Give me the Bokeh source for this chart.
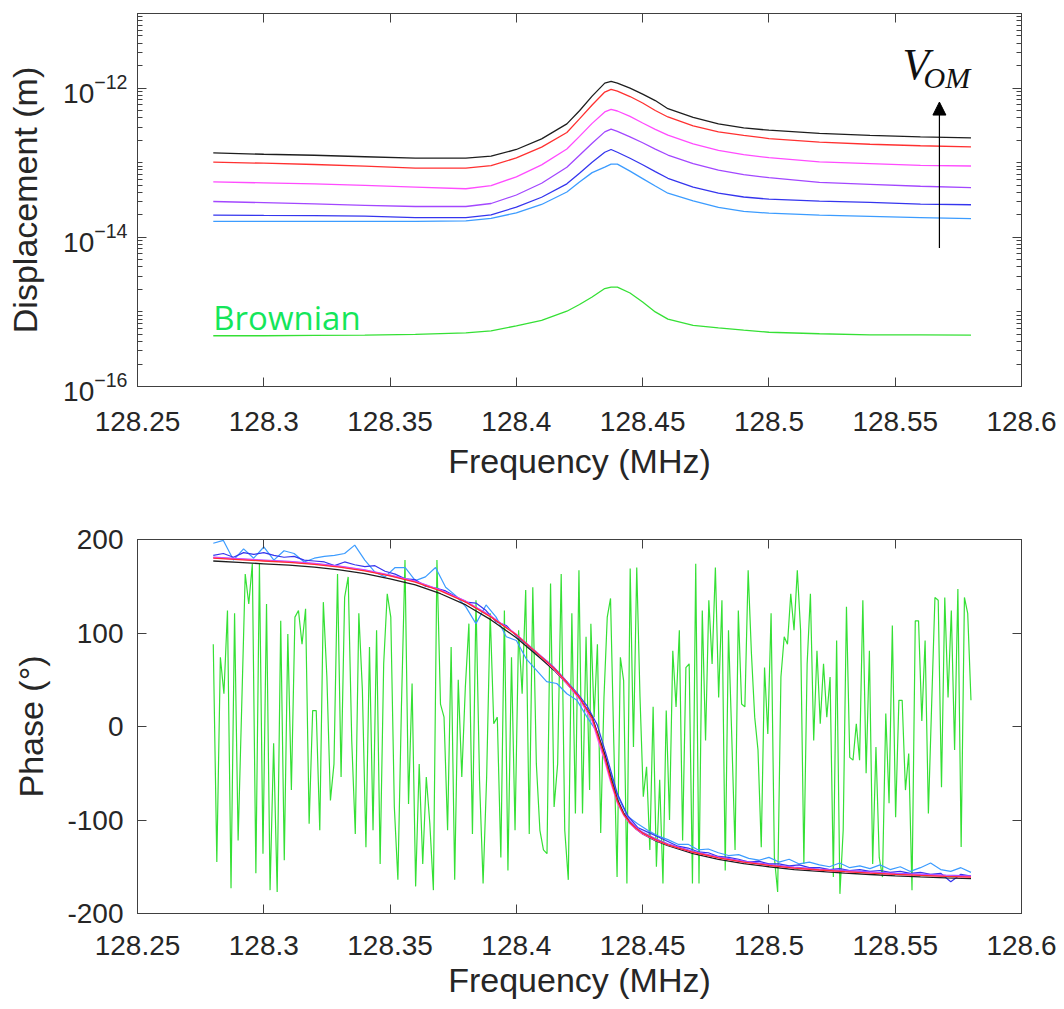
import numpy as np
from bokeh.plotting import figure
from bokeh.layouts import column
from bokeh.models import (Range1d, FixedTicker, LinearAxis, LogAxis, CustomJSTickFormatter,
                          Arrow, NormalHead)
from bokeh.core.properties import value
from bokeh.embed import file_html
from bokeh.resources import INLINE

# ---------------- data : displacement spectra (log10 of metres) ----------------
top_freq = [128.28, 128.30, 128.32, 128.34, 128.36, 128.38, 128.39, 128.40, 128.41, 128.42,
            128.425, 128.43, 128.435, 128.4375, 128.44, 128.445, 128.45, 128.455, 128.46,
            128.47, 128.48, 128.49, 128.50, 128.52, 128.54, 128.56, 128.58]

disp_black = [-12.867, -12.887, -12.900, -12.920, -12.940, -12.940, -12.913, -12.823, -12.680, -12.480,
              -12.303, -12.107, -11.933, -11.911, -11.933, -12.000, -12.080, -12.167, -12.276,
              -12.393, -12.480, -12.533, -12.564, -12.607, -12.633, -12.653, -12.667]
disp_red = [-12.991, -13.007, -13.024, -13.047, -13.073, -13.073, -13.040, -12.936, -12.791, -12.595,
            -12.413, -12.227, -12.053, -12.017, -12.040, -12.113, -12.200, -12.300, -12.387,
            -12.505, -12.587, -12.633, -12.676, -12.723, -12.753, -12.773, -12.787]
disp_magenta = [-13.257, -13.271, -13.284, -13.304, -13.327, -13.349, -13.307, -13.189, -13.029, -12.817,
                -12.647, -12.473, -12.320, -12.284, -12.307, -12.380, -12.468, -12.553, -12.631,
                -12.749, -12.836, -12.893, -12.933, -12.989, -13.013, -13.035, -13.044]
disp_purple = [-13.520, -13.536, -13.553, -13.571, -13.587, -13.587, -13.547, -13.433, -13.275, -13.061,
               -12.900, -12.740, -12.587, -12.551, -12.580, -12.653, -12.733, -12.817, -12.897,
               -13.013, -13.100, -13.160, -13.200, -13.264, -13.291, -13.316, -13.333]
disp_blue = [-13.703, -13.707, -13.709, -13.717, -13.736, -13.736, -13.700, -13.595, -13.463, -13.283,
             -13.140, -12.993, -12.860, -12.823, -12.860, -12.940, -13.027, -13.120, -13.209,
             -13.327, -13.407, -13.460, -13.489, -13.516, -13.533, -13.555, -13.564]
disp_lightblue = [-13.787, -13.787, -13.787, -13.787, -13.787, -13.780, -13.747, -13.672, -13.560, -13.393,
                  -13.260, -13.133, -13.060, -13.020, -13.020, -13.113, -13.213, -13.313, -13.409,
                  -13.511, -13.600, -13.653, -13.676, -13.704, -13.720, -13.737, -13.751]
disp_brownian = [-15.320, -15.320, -15.316, -15.311, -15.300, -15.280, -15.253, -15.187, -15.113, -14.991,
                 -14.901, -14.800, -14.687, -14.667, -14.667, -14.747, -14.867, -15.000, -15.097,
                 -15.180, -15.213, -15.244, -15.273, -15.293, -15.307, -15.307, -15.311]

# ---------------- data : phase (degrees) ----------------
phase_freq_smooth = [128.28, 128.29, 128.30, 128.31, 128.32, 128.33, 128.34, 128.35, 128.36, 128.37,
                     128.38, 128.39, 128.40, 128.41, 128.415, 128.42, 128.425, 128.43, 128.4325, 128.435,
                     128.4375, 128.44, 128.4425, 128.445, 128.4475, 128.45, 128.455, 128.46, 128.47, 128.48,
                     128.49, 128.50, 128.51, 128.52, 128.53, 128.54, 128.55, 128.56, 128.57, 128.58]
phase_black = [177, 175.5, 174, 172.5, 170.5, 167.5, 163.5, 158, 151.5, 142,
               130, 114, 95, 72, 60, 46, 30, 10, -10, -30,
               -55, -78, -93, -103, -110, -115, -122, -127.5, -136, -142,
               -146.6, -150, -153, -155, -156.8, -158.3, -159.7, -160.8, -161.8, -162.6]
phase_red = [180, 178.5, 177, 175.5, 173.5, 170.5, 166.5, 161, 154.5, 145,
             133, 117, 98, 74, 62, 47, 31, 9, -12, -33,
             -58, -80, -94, -103, -109, -114, -121, -126.5, -134.5, -140.5,
             -145, -148.5, -151.5, -153.5, -155.3, -156.8, -158.2, -159.3, -160.3, -161]
phase_magenta = [180.5, 179, 177.5, 176, 174, 171, 167, 161.5, 155, 145.5,
                 133.5, 117.5, 98.5, 74, 61, 46, 29, 6, -16, -37,
                 -61, -82, -95, -104, -110, -115, -121.5, -126.5, -134.5, -140.5,
                 -145, -148.5, -151.5, -153.5, -155.3, -156.5, -158, -159, -160, -160.8]
phase_purple = [181, 179.5, 178, 176.5, 174.5, 171.5, 167.5, 162, 155.5, 146,
                134, 118, 98.5, 75, 63, 48, 31, 10, -10, -31,
                -56, -78, -92, -101, -108, -113, -120, -125.5, -133.5, -139.5,
                -144, -147.5, -150.5, -152.5, -154, -155.5, -157, -158, -159, -159.8]

phase_freq_noisy = np.linspace(128.28, 128.58, 76)
phase_blue = [183, 185, 181, 186, 184, 186, 183, 181, 182, 178, 177, 176,
              172, 176, 173, 171, 172, 166, 163, 158, 157, 150, 148, 145, 139, 133, 132, 124,
              112, 108, 97, 88, 78, 70, 60, 48, 36, 22,
              2, -34, -72, -95, -108, -113, -118, -123, -128, -130, -134, -135, -139, -140,
              -142, -145, -144, -147, -147, -149, -148, -151, -151, -153, -152, -154, -153, -155,
              -154, -156, -155, -157, -156, -158, -157, -166, -158, -160]
phase_lightblue = [196, 199, 178, 190, 180, 192, 178, 188, 185, 176, 180, 182,
                   183, 185, 194, 178, 165, 160, 170, 170, 156, 160, 170, 149, 140, 128, 110, 130,
                   117, 96, 92, 72, 60, 48, 46, 35, 28, 10,
                   -6, -38, -74, -96, -104, -111, -117, -121, -126, -126, -132, -131, -135, -138,
                   -137, -141, -143, -140, -145, -142, -147, -145, -148, -150, -146, -151, -149, -152,
                   -148, -153, -150, -155, -151, -146, -153, -155, -151, -156]

phase_brownian_left = [88, -145, 74, 35, 124, -173, 121, -122, 20, 163,
                       131, 174, -157, 174, -136, 131, -175, -18, -177, 113,
                       -143, 99, -68, 117, 124, 88, 126, -104, 17, 17,
                       -111, 133, 53, -79, -40, 163, -54, 138, 160, -15,
                       -115, 121, 39, -129, 85, -111, 103, -147, 67, 142,
                       117, -86, -164, 21, 178, -83, 46, -171, -40, -147,
                       -54, -104, -175, 178, 24, 10, -111, 85, -164, 50,
                       -54, 42, 110, -115, 135, -58, -168, -54, 121, 3,
                       10, -140, 124, -154, 74, -111, 103, 35, 146, -115,
                       149, -40, -111, -132, -136, 153, -86, -40, 163, -111,
                       -164, 121, -93, 167, -93, 96, -68]
phase_brownian_right = [110, 10, 88, -114, 31, 117, 137, -18, -161, 74,
                        49, -168, 169, -22, 170, 31, -75, -43, -132, 21,
                        -150, -57, -168, 17, -100, 81, 21, 103, -122, 63,
                        67, -168, 174, -168, 124, -15, 135, 67, 170, 31,
                        135, -154, 103, -11, -132, 124, 24, 21, 167, 78,
                        10, -25, -129, 63, -8, 121, -140, -177, 53, 96,
                        88, 142, 103, 167, 103, -147, 67, 142, -15, 81,
                        3, 67, 10, 53, -161, 92, -179, -111, 128, -33,
                        -36, 3, -36, 135, -50, 81, -147, -22, -140, -161,
                        14, -82, 108, -97, 28, 28, -68, -29, -175, 113,
                        113, 6, 92, -93, 24, 138, 135, -65, 138, 31,
                        124, -25, 147, -129, 138, 121, 28]
phase_freq_brownian = list(np.linspace(128.28, 128.429, len(phase_brownian_left))) + \
                      list(np.linspace(128.4295, 128.58, len(phase_brownian_right)))
phase_brownian = phase_brownian_left + phase_brownian_right

# ---------------- axis ticks ----------------
freq_ticks = [128.25, 128.3, 128.35, 128.4, 128.45, 128.5, 128.55, 128.6]
disp_major_ticks = [1e-16, 1e-14, 1e-12]
disp_minor_ticks = [k * 10.0 ** n for n in range(-16, -11) for k in range(1, 10)
                    if not (k == 1 and n % 2 == 0)] + [1e-11]
phase_ticks = [-200, -100, 0, 100, 200]

# ---------------- styling ----------------
FONT = "Liberation Sans"
TXT = "#262626"
AX = "#404040"
C_BLACK = "#1e1e1e"
C_RED = "#ff3030"
C_MAGENTA = "#ff4cff"
C_PURPLE = "#a347ff"
C_BLUE = "#3535ee"
C_LIGHTBLUE = "#3c9cff"
C_GREEN = "#35e035"

num_fmt = CustomJSTickFormatter(code="return String(Number(tick.toFixed(4)));")
blank_fmt = CustomJSTickFormatter(code="return '';")


def style_axis(ax, minor=False):
    ax.axis_line_color = AX
    ax.axis_line_width = 1
    ax.major_tick_line_color = AX
    ax.major_tick_line_width = 1
    ax.major_tick_in = 9
    ax.major_tick_out = 0
    ax.minor_tick_in = 5 if minor else 0
    ax.minor_tick_out = 0
    ax.minor_tick_line_color = AX if minor else None
    ax.major_label_text_font = FONT
    ax.major_label_text_font_size = "28px"
    ax.major_label_text_color = TXT
    ax.axis_label_text_font = FONT
    ax.axis_label_text_font_size = "34px"
    ax.axis_label_text_font_style = "normal"
    ax.axis_label_text_color = TXT


# ---------------- top: displacement ----------------
p1 = figure(frame_width=884, frame_height=373,
            x_range=Range1d(128.25, 128.6), y_range=Range1d(1e-16, 1e-11),
            y_axis_type="log", output_backend="svg", toolbar_location=None,
            min_border_left=137, min_border_right=40, min_border_top=13, min_border_bottom=110,
            x_axis_label="Frequency (MHz)", y_axis_label="Displacement (m)")
p1.grid.visible = False
p1.outline_line_color = AX
p1.xaxis.ticker = FixedTicker(ticks=freq_ticks)
p1.xaxis.formatter = num_fmt
p1.yaxis.ticker = FixedTicker(ticks=disp_major_ticks, minor_ticks=disp_minor_ticks)
style_axis(p1.xaxis[0])
style_axis(p1.yaxis[0], minor=True)
p1.xaxis.major_label_standoff = 25
p1.xaxis.axis_label_standoff = 8
p1.yaxis.major_label_standoff = 10
p1.yaxis.axis_label_standoff = 16

ax_r1 = LogAxis(ticker=FixedTicker(ticks=disp_major_ticks, minor_ticks=disp_minor_ticks), formatter=blank_fmt)
style_axis(ax_r1, minor=True)
ax_r1.major_label_standoff = 0
p1.add_layout(ax_r1, "right")
ax_t1 = LinearAxis(ticker=FixedTicker(ticks=freq_ticks), formatter=blank_fmt)
style_axis(ax_t1)
ax_t1.major_label_standoff = 0
p1.add_layout(ax_t1, "above")

for vals, col in [(disp_brownian, C_GREEN), (disp_lightblue, C_LIGHTBLUE), (disp_blue, C_BLUE),
                  (disp_purple, C_PURPLE), (disp_magenta, C_MAGENTA), (disp_red, C_RED),
                  (disp_black, C_BLACK)]:
    p1.line(top_freq, 10.0 ** np.array(vals), line_color=col, line_width=1.3)

p1.text(x=[128.28], y=[8.3e-16], text=["Brownian"], text_font=value("Open Sans"),
        text_font_size="33px", text_color="#14e65a", text_baseline="alphabetic", text_align="left")
p1.text(x=[128.5529], y=[2.1e-12], text=["V"], text_font=value("Liberation Serif"),
        text_font_style="italic", text_font_size="44px", text_color="#111111",
        text_baseline="alphabetic", text_align="left")
p1.text(x=[128.5612], y=[1.37e-12], text=["OM"], text_font=value("Liberation Serif"),
        text_font_style="italic", text_font_size="30px", text_color="#111111",
        text_baseline="alphabetic", text_align="left")
p1.add_layout(Arrow(end=NormalHead(size=13, fill_color="black", line_color="black"),
                    x_start=128.5675, y_start=7.2e-15, x_end=128.5675, y_end=6.5e-13,
                    line_color="black", line_width=1.2))

# ---------------- bottom: phase ----------------
p2 = figure(frame_width=884, frame_height=374,
            x_range=Range1d(128.25, 128.6), y_range=Range1d(-200, 200),
            output_backend="svg", toolbar_location=None,
            min_border_left=137, min_border_right=40, min_border_top=43, min_border_bottom=95,
            x_axis_label="Frequency (MHz)", y_axis_label="Phase (°)")
p2.grid.visible = False
p2.outline_line_color = AX
p2.xaxis.ticker = FixedTicker(ticks=freq_ticks)
p2.xaxis.formatter = num_fmt
p2.yaxis.ticker = FixedTicker(ticks=phase_ticks)
p2.yaxis.formatter = num_fmt
style_axis(p2.xaxis[0])
style_axis(p2.yaxis[0])
p2.xaxis.major_label_standoff = 22
p2.xaxis.axis_label_standoff = 3
p2.yaxis.major_label_standoff = 14
p2.yaxis.axis_label_standoff = 14

ax_r2 = LinearAxis(ticker=FixedTicker(ticks=phase_ticks), formatter=blank_fmt)
style_axis(ax_r2)
ax_r2.major_label_standoff = 0
p2.add_layout(ax_r2, "right")
ax_t2 = LinearAxis(ticker=FixedTicker(ticks=freq_ticks), formatter=blank_fmt)
style_axis(ax_t2)
ax_t2.major_label_standoff = 0
p2.add_layout(ax_t2, "above")

p2.line(phase_freq_brownian, phase_brownian, line_color=C_GREEN, line_width=1.2)
p2.line(phase_freq_noisy, phase_lightblue, line_color=C_LIGHTBLUE, line_width=1.2)
p2.line(phase_freq_noisy, phase_blue, line_color=C_BLUE, line_width=1.2)
p2.line(phase_freq_smooth, phase_purple, line_color=C_PURPLE, line_width=1.3)
p2.line(phase_freq_smooth, phase_black, line_color=C_BLACK, line_width=1.3)
p2.line(phase_freq_smooth, phase_magenta, line_color=C_MAGENTA, line_width=1.3)
p2.line(phase_freq_smooth, phase_red, line_color=C_RED, line_width=1.3)

layout = column(p1, p2, spacing=0)
open("out.html", "w").write(file_html(layout, INLINE, "Displacement and phase"))
